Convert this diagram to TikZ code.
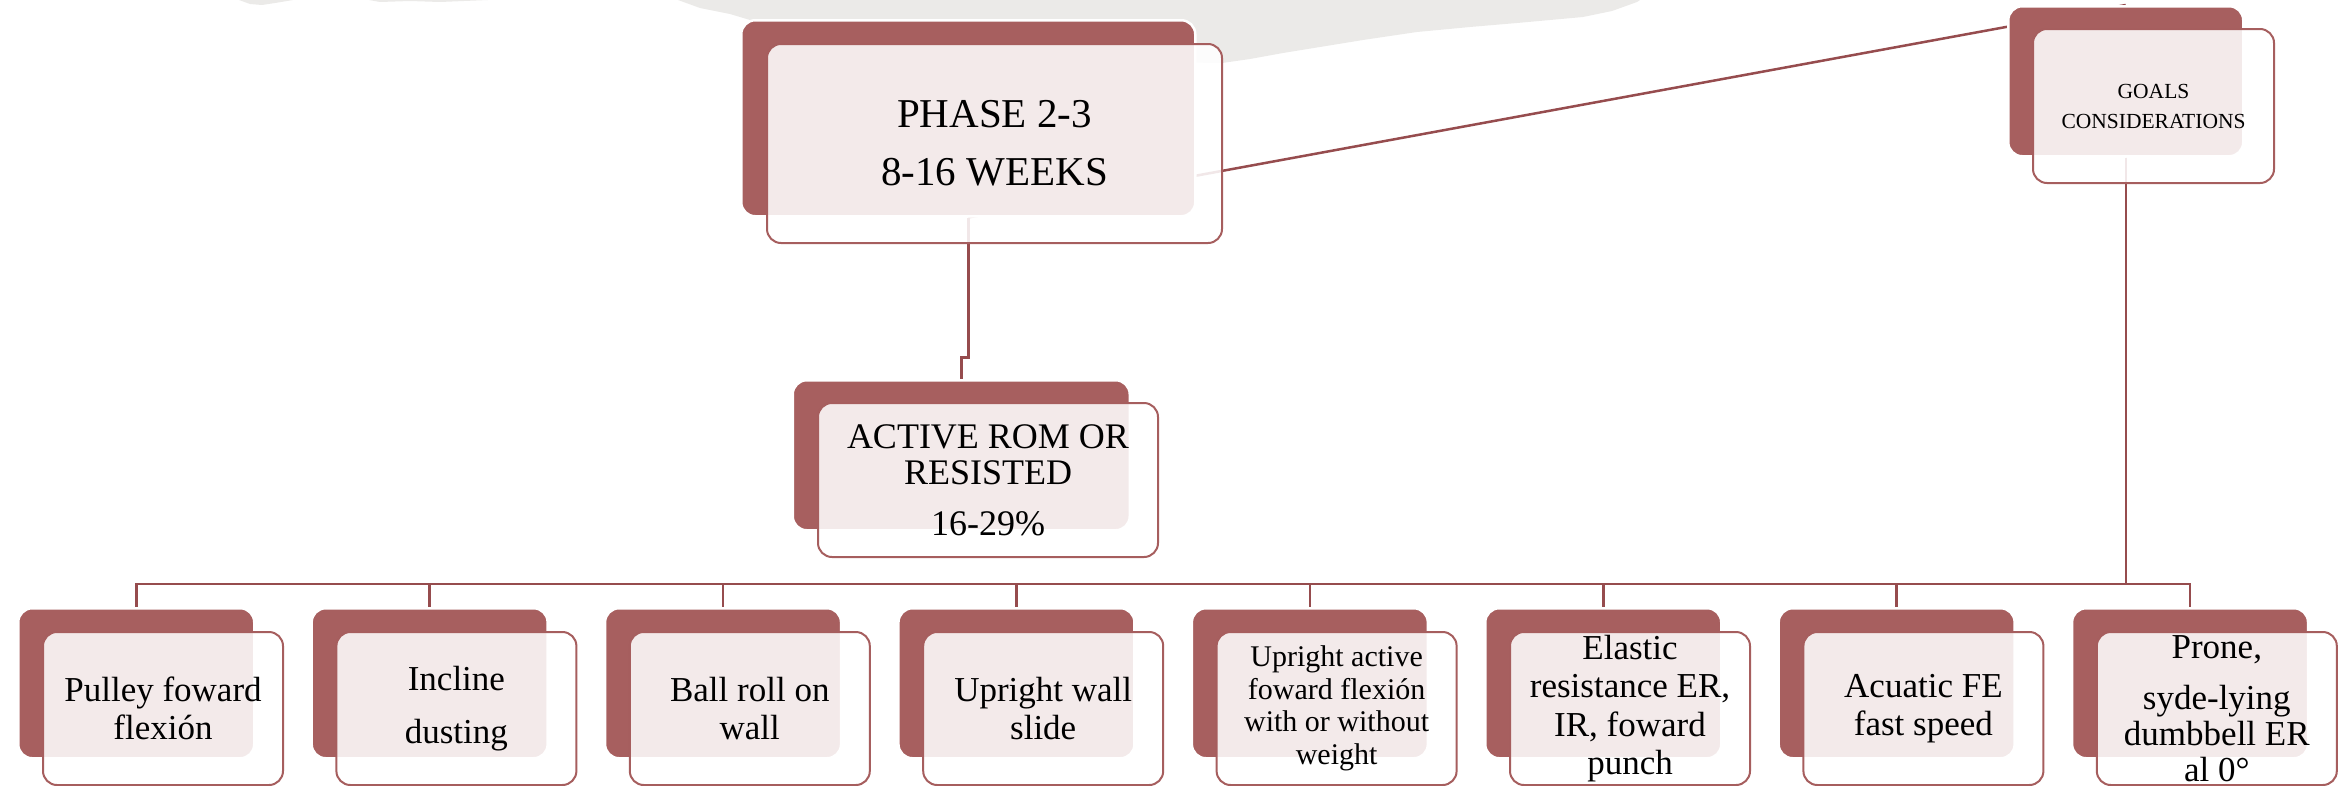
\documentclass[tikz,border=0pt]{standalone}
\usepackage{fontspec}
\setmainfont{Liberation Serif}
\usetikzlibrary{calc}
\definecolor{boxdark}{RGB}{167,95,95}
\definecolor{boxline}{RGB}{166,94,94}
\definecolor{wirecol}{RGB}{150,76,78}
\definecolor{haze}{RGB}{235,234,232}
\pgfdeclarelayer{hazelayer}
\pgfdeclarelayer{wirelayer}
\pgfsetlayers{hazelayer,wirelayer,main}

\begin{document}
\begin{tikzpicture}[x=1pt,y=-1pt,
  back/.style={anchor=north west, fill=boxdark, draw=white, line width=2.5pt,
    rounded corners=14pt, minimum width=236pt, minimum height=150pt, inner sep=0pt},
  front/.style={anchor=north west, fill=white, fill opacity=0.87, text opacity=1,
    draw=boxline, draw opacity=1, line width=2pt, rounded corners=14pt,
    minimum width=240pt, minimum height=153pt, inner sep=0pt, align=center,
    font=\fontsize{35pt}{38.5pt}\selectfont},
  wire/.style={draw=wirecol, line width=2.5pt}]

\useasboundingbox (0,0) rectangle (2348,785);

% top level: phase box
\node[back, minimum width=454pt, minimum height=196pt] (phaseD) at (740,19) {};
\node[front, minimum width=455pt, minimum height=199pt,
  font=\fontsize{41pt}{58pt}\selectfont] (phase) at (766,43) {PHASE 2-3\\8-16 WEEKS};

% second level: active ROM box
\node[back, minimum width=337pt, minimum height=150pt] (activeD) at (791.5,379) {};
\node[front, minimum width=340pt, minimum height=154pt,
  font=\fontsize{36pt}{36pt}\selectfont] (active) at (817,402)
  {ACTIVE ROM OR\\RESISTED\\[15pt]16-29\%};

% goals box
\node[back, minimum width=235pt, minimum height=150pt] (goalsD) at (2007,5) {};
\node[front, minimum width=241pt, minimum height=154pt,
  font=\fontsize{21.5pt}{30pt}\selectfont] (goals) at (2032,28)
  {GOALS\\CONSIDERATIONS};

% exercise boxes
\foreach \k in {1,...,8}{
  \node[back] (cd\k) at ({17+293.4*(\k-1)},607) {};
}
\node[front] (cf1) at ($(cd1.north west)+(25,24)$) {Pulley foward\\flexión};
\node[front] (cf2) at ($(cd2.north west)+(25,24)$) {Incline\\[14pt]dusting};
\node[front] (cf3) at ($(cd3.north west)+(25,24)$) {Ball roll on\\wall};
\node[front] (cf4) at ($(cd4.north west)+(25,24)$) {Upright wall\\slide};
\node[front, font=\fontsize{30pt}{32.5pt}\selectfont] (cf5) at ($(cd5.north west)+(25,24)$)
  {Upright active\\foward flexión\\with or without\\weight};
\node[front] (cf6) at ($(cd6.north west)+(25,24)$) {Elastic\\resistance ER,\\IR, foward\\punch};
\node[front] (cf7) at ($(cd7.north west)+(25,24)$) {Acuatic FE\\fast speed};
\node[front, font=\fontsize{35pt}{36pt}\selectfont] (cf8) at ($(cd8.north west)+(25,24)$)
  {Prone,\\[15pt]syde-lying\\dumbbell ER\\al 0°};

% connectors, behind the boxes
\begin{pgfonlayer}{wirelayer}
  \coordinate (bus) at (0,584);
  \draw[wire] (phaseD.south) -- ++(0,140) -| (activeD.north);
  \draw[wire] (phaseD.south) -- (goalsD.north);
  \foreach \k in {1,...,8}{
    \draw[wire] (goalsD.south) -- (goalsD.south |- bus) -| (cd\k.north);
  }
\end{pgfonlayer}

% grey wash along the top edge
\begin{pgfonlayer}{hazelayer}
  \fill[haze] (678,0) -- (700,8) -- (730,14) -- (750,20) -- (1000,60) -- (1222,63)
    -- (1250,59) -- (1283,53) -- (1320,47) -- (1363,40) -- (1417,32) -- (1470,27)
    -- (1517,23) -- (1583,17) -- (1612,11) -- (1637,2) -- (1640,0) -- cycle;
  \fill[haze] (239,0) -- (250,4) -- (262,5) -- (275,3) -- (293,0) -- cycle;
  \fill[haze] (369,0) -- (380,2) -- (410,1) -- (440,2) -- (488,0) -- cycle;
\end{pgfonlayer}
\end{tikzpicture}
\end{document}
